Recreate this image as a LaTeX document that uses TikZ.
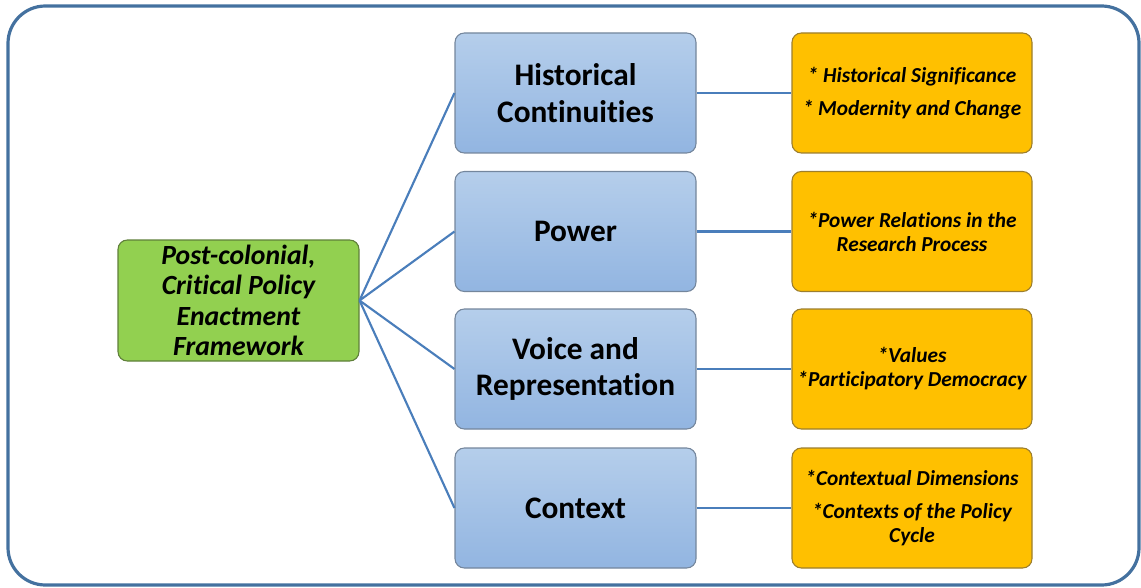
\documentclass[tikz,border=0pt]{standalone}
\usepackage{fontspec}
\setmainfont{Carlito}[Ligatures=NoCommon]
\definecolor{bluetop}{HTML}{B5CEEB}
\definecolor{bluebot}{HTML}{92B5E1}
\definecolor{bluebord}{HTML}{74869C}
\definecolor{orfill}{HTML}{FFC000}
\definecolor{orbord}{HTML}{9C7E2E}
\definecolor{grfill}{HTML}{92D050}
\definecolor{grbord}{HTML}{5F7F3A}
\definecolor{connc}{HTML}{4A7EBB}
\definecolor{framec}{HTML}{44719F}
\begin{document}
\begin{tikzpicture}[x=0.75pt,y=-0.75pt,
  bluebox/.style={draw=bluebord, line width=0.8pt, rounded corners=7pt,
    top color=bluetop, bottom color=bluebot, minimum width=180.75pt,
    minimum height=90pt, inner sep=0pt, align=center,
    font=\bfseries\fontsize{23.5}{27.5}\selectfont},
  orbox/.style={draw=orbord, line width=0.8pt, rounded corners=7pt,
    fill=orfill, minimum width=180pt, minimum height=90pt, inner sep=0pt,
    align=center, font=\bfseries\itshape\fontsize{16}{18}\selectfont},
  grbox/.style={draw=grbord, line width=0.8pt, rounded corners=7pt,
    fill=grfill, minimum width=180.75pt, minimum height=90.75pt, inner sep=0pt,
    align=center, font=\bfseries\itshape\fontsize{20.8}{22.8}\selectfont},
  conn/.style={draw=connc, line width=1.6pt}]
\useasboundingbox (0,0) rectangle (1141,588);
\draw[framec, line width=2.4pt, rounded corners=28pt] (8,6) rectangle (1139,585);

\node[grbox] (g) at (238.5,300.5) {Post-colonial,\\Critical Policy\\Enactment\\Framework};

\node[bluebox] (b1) at (575.5,93) {Historical\\Continuities};
\node[bluebox] (b2) at (575.5,231.5) {Power};
\node[bluebox] (b3) at (575.5,369) {Voice and\\Representation};
\node[bluebox] (b4) at (575.5,508) {Context};

\node[orbox] (o1) at (912,93) {* Historical Significance\\[7pt]* Modernity and Change};
\node[orbox] (o2) at (912,231.5) {*Power Relations in the\\Research Process};
\node[orbox] (o3) at (912,369) {*Values\\*Participatory Democracy};
\node[orbox] (o4) at (912,508) {*Contextual Dimensions\\[7pt]*Contexts of the Policy\\Cycle};

\foreach \i in {1,2,3,4} {
  \draw[conn] (g.east) -- (b\i.west);
  \draw[conn] (b\i.east) -- (o\i.west);
}
\end{tikzpicture}
\end{document}
